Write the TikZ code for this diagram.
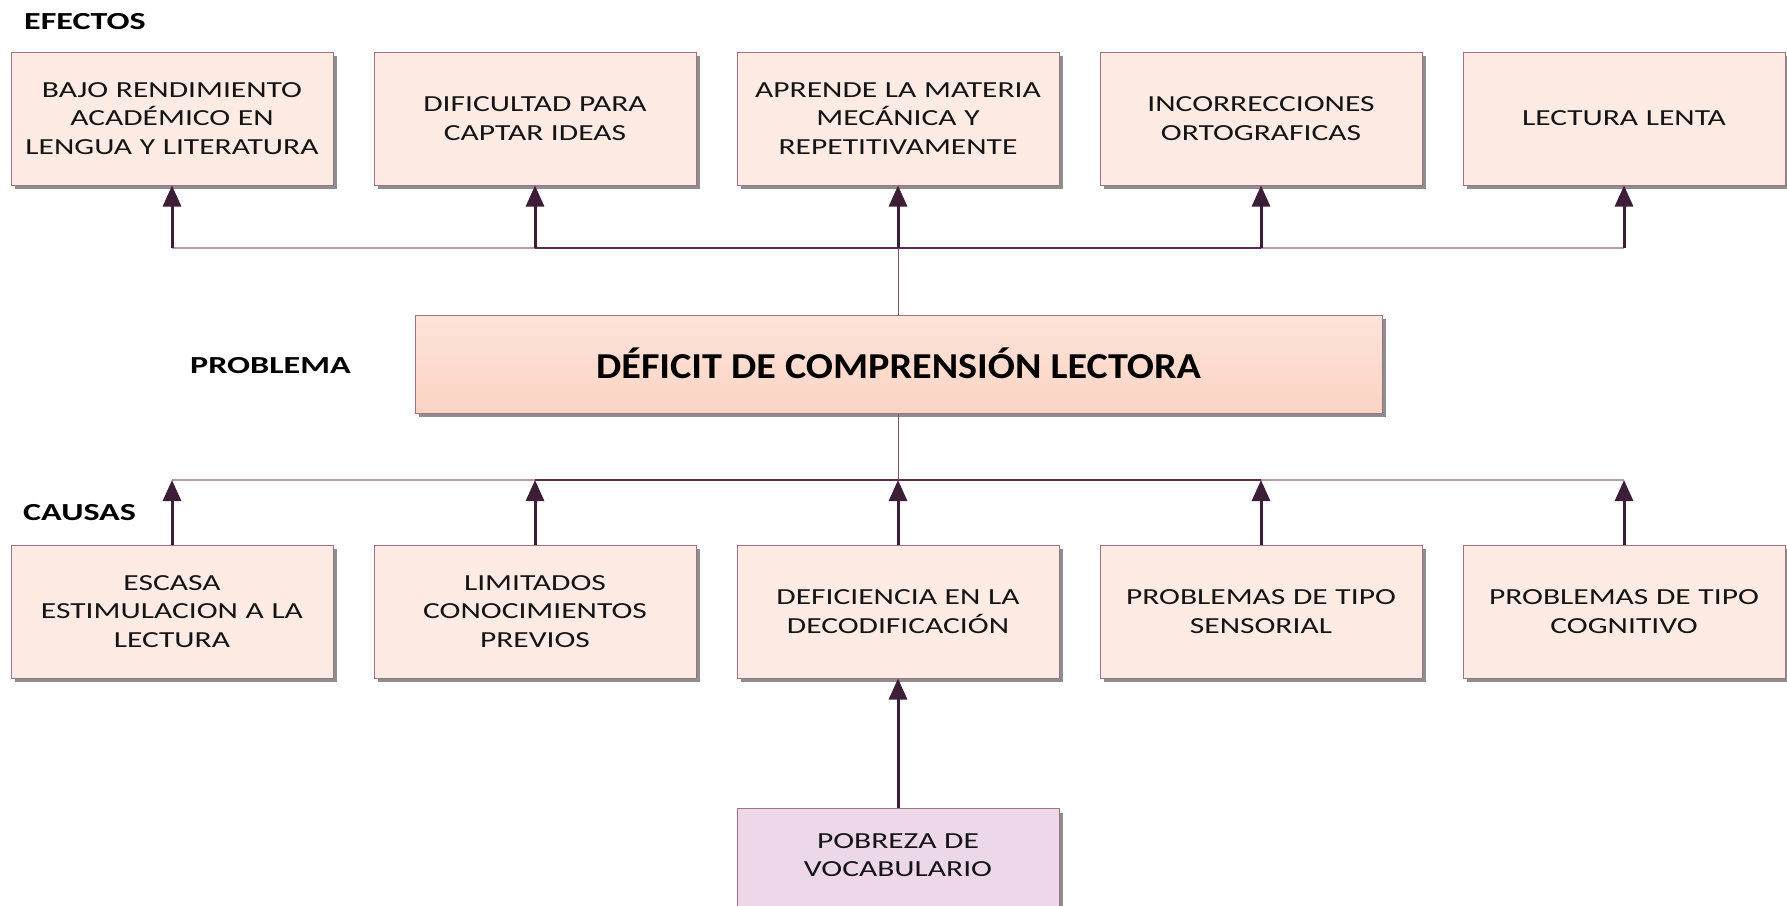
\documentclass[tikz,border=0pt]{standalone}
\usepackage{fontspec}
\setmainfont{Carlito}
\newfontfamily\widefont{Carlito}[FakeStretch=1.37]
\newfontfamily\widebold{Carlito Bold}[FakeStretch=1.39]
\newfontfamily\titlefont{Carlito Bold}[FakeStretch=1.10]
\usetikzlibrary{arrows.meta,shadows,calc}
\definecolor{boxfill}{HTML}{FDEBE4}
\definecolor{boxdraw}{HTML}{9E7282}
\definecolor{maintop}{HTML}{FDE3DA}
\definecolor{mainbot}{HTML}{FBD4C3}
\definecolor{pobfill}{HTML}{EDD8EA}
\definecolor{arrowcol}{HTML}{3D1E37}
\definecolor{lightline}{HTML}{B79BA9}
\definecolor{darkline}{HTML}{5A2D4A}
\definecolor{shadowgray}{HTML}{8E8E8E}
\tikzset{
  myshadow/.style={drop shadow={shadow xshift=4pt,shadow yshift=-4pt,fill=shadowgray,opacity=1}},
  boxtext/.style={text width=316pt,align=center,inner sep=0pt,font=\widefont\fontsize{23}{28.5}\selectfont,text=black!92},
  smallbox/.style={draw=boxdraw,line width=1pt,fill=boxfill,myshadow,minimum width=322pt,minimum height=133pt,boxtext},
  mainbox/.style={draw=boxdraw,line width=1pt,top color=maintop,bottom color=mainbot,myshadow,minimum width=967pt,
     minimum height=98pt,align=center,inner sep=0pt,font=\titlefont\fontsize{36.5}{44}\selectfont},
  pobbox/.style={smallbox,fill=pobfill,minimum height=115pt},
  sectlabel/.style={anchor=base west,inner sep=0pt,font=\widebold\fontsize{24.5}{30}\selectfont},
  arr/.style={draw=arrowcol,line width=3pt,-{Triangle[width=18pt,length=21pt]}},
  thinl/.style={draw=lightline,line width=1.3pt},
  darkl/.style={draw=darkline,line width=1.6pt},
  stem/.style={draw=darkline!80,line width=1pt},
}
\begin{document}
\begin{tikzpicture}[x=1pt,y=-1pt]
\clip (0,0) rectangle (1787,905);
\useasboundingbox (0,0) rectangle (1787,905);
\fill[white] (0,0) rectangle (1787,905);

\node[sectlabel] (lefe) at (24,29) {EFECTOS};
\node[sectlabel] (lpro) at (190,373) {PROBLEMA};
\node[sectlabel] (lcau) at (23,520) {CAUSAS};

% effects
\node[smallbox] (e1) at (172,118.5) {BAJO RENDIMIENTO\\ACADÉMICO EN\\LENGUA Y LITERATURA};
\node[smallbox] (e2) at (535,118.5) {DIFICULTAD PARA\\CAPTAR IDEAS};
\node[smallbox] (e3) at (898,118.5) {APRENDE LA MATERIA\\MECÁNICA Y\\REPETITIVAMENTE};
\node[smallbox] (e4) at (1261,118.5) {INCORRECCIONES\\ORTOGRAFICAS};
\node[smallbox] (e5) at (1624,118.5) {LECTURA LENTA};

% main
\node[mainbox] (m) at (898.5,364) {\raisebox{2pt}{DÉFICIT DE COMPRENSIÓN LECTORA}};

% causes
\node[smallbox] (c1) at (172,611.5) {ESCASA\\ESTIMULACION A LA\\LECTURA};
\node[smallbox] (c2) at (535,611.5) {LIMITADOS\\CONOCIMIENTOS\\PREVIOS};
\node[smallbox] (c3) at (898,611.5) {DEFICIENCIA EN LA\\DECODIFICACIÓN};
\node[smallbox] (c4) at (1261,611.5) {PROBLEMAS DE TIPO\\SENSORIAL};
\node[smallbox] (c5) at (1624,611.5) {PROBLEMAS DE TIPO\\COGNITIVO};

\node[pobbox,anchor=north] (p) at (898,808) {};
\node[boxtext] (pt) at (898,855) {POBREZA DE\\VOCABULARIO};

% effects connectors
\coordinate (eL) at (172,248);
\coordinate (eR) at (1624,248);
\draw[thinl] (eL) -- (eR);
\draw[darkl] (e2 |- eL) -- (e4 |- eL);
\draw[stem] (m.north) -- (m.north |- eL);
\foreach \n in {e1,e2,e3,e4,e5}{
  \draw[arr] (\n |- eL) -- (\n.south);
}

% causes connectors
\coordinate (cL) at (172,480);
\coordinate (cR) at (1624,480);
\draw[thinl] (cL) -- (cR);
\draw[darkl] (c2 |- cL) -- (c4 |- cL);
\draw[stem] (m.south) -- (m.south |- cL);
\foreach \n in {c1,c2,c3,c4,c5}{
  \draw[arr] (\n.north) -- (\n |- cL);
}
\draw[arr] (p.north) -- (c3.south);
\end{tikzpicture}
\end{document}
